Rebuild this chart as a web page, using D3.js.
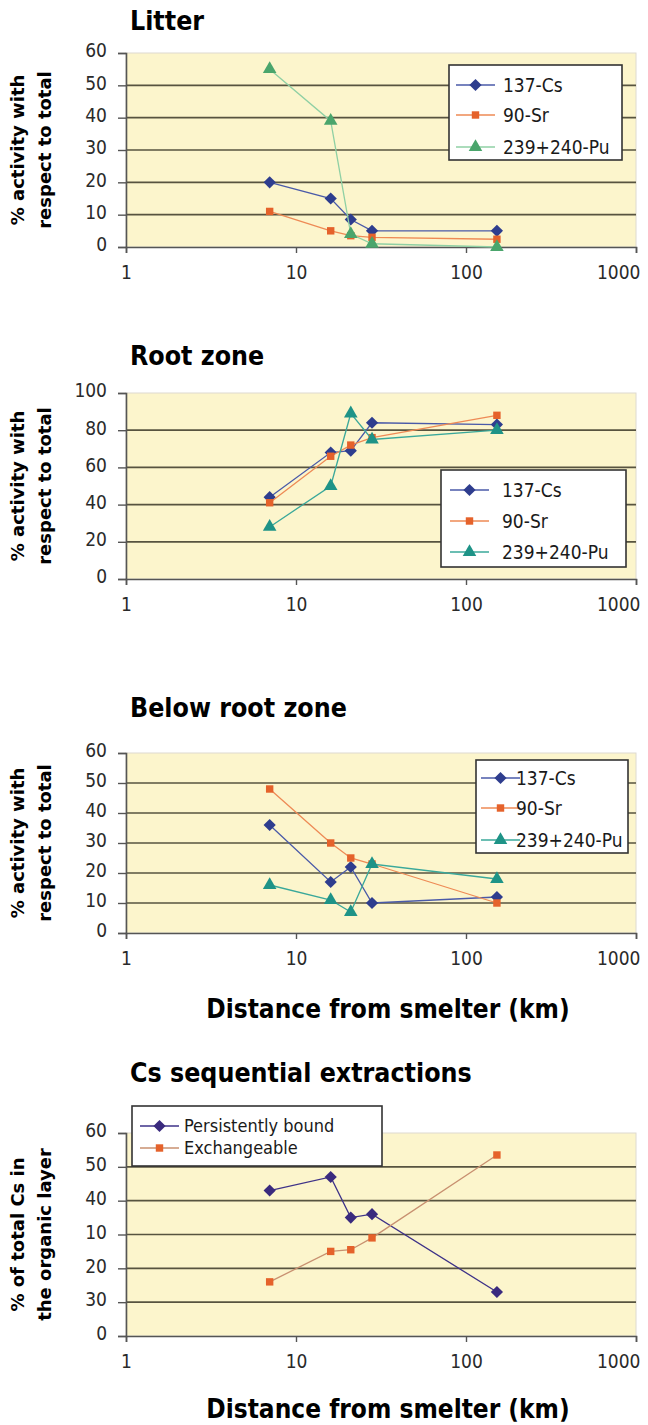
<!DOCTYPE html>
<html>
<head>
<meta charset="utf-8">
<script src="https://cdn.jsdelivr.net/npm/d3@7/dist/d3.min.js"></script>
<style>
  body { margin: 0; background: #fff; }
  svg { display: block; }
  .title { font-family: "DejaVu Sans Condensed", "DejaVu Sans", sans-serif; font-weight: bold; font-stretch: condensed; fill: #000; }
  .tick text { font-family: "DejaVu Sans Condensed", "DejaVu Sans", sans-serif; font-stretch: condensed; fill: #2a2a2a; }
  .ylab { font-family: "DejaVu Sans", sans-serif; font-weight: bold; fill: #000; }
  .leg text { font-family: "DejaVu Sans Condensed", "DejaVu Sans", sans-serif; font-stretch: condensed; fill: #1a1a1a; }
</style>
</head>
<body>
<svg width="648" height="1425"></svg>
<script>
// distances of the sampling sites (km), same for every panel
var distanceKm = [7, 16, 21, 28, 152];
var xTickValues = [1, 10, 100, 1000];
var nuclideNames = ["137-Cs", "90-Sr", "239+240-Pu"];

// Litter
var litterCs = [20, 15, 8.5, 5, 5];
var litterSr = [11, 5, 3.5, 3, 2.4];
var litterPu = [55, 39, 4, 1, 0];
var litterTicks = [0, 10, 20, 30, 40, 50, 60];

// Root zone
var rootCs = [44, 68, 69, 84, 83];
var rootSr = [41, 66, 72, 76, 88];
var rootPu = [28, 50, 89, 75, 80];
var rootTicks = [0, 20, 40, 60, 80, 100];

// Below root zone
var belowCs = [36, 17, 22, 10, 12];
var belowSr = [48, 30, 25, 23, 10];
var belowPu = [16, 11, 7, 23, 18];
var belowTicks = [0, 10, 20, 30, 40, 50, 60];

// Cs sequential extractions
var extractionNames = ["Persistently bound", "Exchangeable"];
var persistentBound = [43, 47, 35, 36, 13];
var exchangeable = [16, 25, 25.5, 29, 53.5];
var extractionTicks = [0, 10, 20, 30, 40, 50, 60];
var extractionTickLabels = ["0", "30", "20", "10", "40", "50", "60"]; // as printed in the figure

var svg = d3.select("svg");
var x = d3.scaleLog().domain([1, 1000]).range([126, 636]);

var blue = "#2e3d8e", orange = "#e5622b", green = "#4aa56c", teal = "#1e9387", purple = "#3a2a7e";
var diamond = d3.symbolDiamond2 || d3.symbolDiamond;

var panels = [
    {title: "Litter", titleY: 30, top: 53, bottom: 247, ticks: litterTicks,
     ylab: ["% activity with", "respect to total"],
     series: [
        {name: nuclideNames[0], values: litterCs, color: blue, line: "#4a5aa8", shape: diamond},
        {name: nuclideNames[1], values: litterSr, color: orange, line: "#ee8a55", shape: d3.symbolSquare},
        {name: nuclideNames[2], values: litterPu, color: green, line: "#8fd0a4", shape: d3.symbolTriangle}],
     legend: {x: 449, y: 65, w: 173, h: 95, rows: [85, 115, 147], lx: 456, tx: 503, fs: 19}},
    {title: "Root zone", titleY: 365, top: 393, bottom: 579, ticks: rootTicks,
     ylab: ["% activity with", "respect to total"],
     series: [
        {name: nuclideNames[0], values: rootCs, color: blue, line: "#4a5aa8", shape: diamond},
        {name: nuclideNames[1], values: rootSr, color: orange, line: "#ee8a55", shape: d3.symbolSquare},
        {name: nuclideNames[2], values: rootPu, color: teal, line: "#3aa89a", shape: d3.symbolTriangle}],
     legend: {x: 441, y: 470, w: 185, h: 97, rows: [490, 521, 552], lx: 450, tx: 502, fs: 19}},
    {title: "Below root zone", titleY: 717, top: 753, bottom: 933, ticks: belowTicks,
     ylab: ["% activity with", "respect to total"],
     series: [
        {name: nuclideNames[0], values: belowCs, color: blue, line: "#4a5aa8", shape: diamond},
        {name: nuclideNames[1], values: belowSr, color: orange, line: "#ee8a55", shape: d3.symbolSquare},
        {name: nuclideNames[2], values: belowPu, color: teal, line: "#3aa89a", shape: d3.symbolTriangle}],
     legend: {x: 476, y: 760, w: 152, h: 93, rows: [778, 808, 840], lx: 481, tx: 516, fs: 19},
     xtitle: 1018},
    {title: "Cs sequential extractions", titleY: 1082, top: 1133, bottom: 1336, ticks: extractionTicks,
     tickLabels: extractionTickLabels,
     ylab: ["% of total Cs in", "the organic layer"],
     series: [
        {name: extractionNames[0], values: persistentBound, color: purple, line: "#3e3288", shape: diamond},
        {name: extractionNames[1], values: exchangeable, color: orange, line: "#c89070", shape: d3.symbolSquare}],
     legend: {x: 132, y: 1106, w: 250, h: 60, rows: [1126, 1148], lx: 140, tx: 184, fs: 18},
     xtitle: 1418}
];

panels.forEach(drawPanel);

function markerSize(shape) {
    if (shape === d3.symbolSquare) return 55;
    if (shape === d3.symbolTriangle) return 80;
    return 95;
}

function drawPanel(p) {
    var yMax = d3.max(p.ticks);
    var y = d3.scaleLinear().domain([0, yMax]).range([p.bottom, p.top]);
    var g = svg.append("g");

    g.append("text").attr("class", "title")
        .attr("x", 130).attr("y", p.titleY)
        .attr("font-size", 26.5).text(p.title);

    // plot area
    g.append("rect")
        .attr("x", x(1)).attr("y", p.top)
        .attr("width", x(1000) - x(1)).attr("height", p.bottom - p.top)
        .attr("fill", "#fcf5cc").attr("stroke", "#dedad0").attr("stroke-width", 1);

    // grid lines
    g.append("g").selectAll("line")
        .data(p.ticks.filter(function (t) { return t > 0 && t < yMax; }))
        .enter().append("line")
        .attr("x1", x(1)).attr("x2", x(1000))
        .attr("y1", function (d) { return y(d); }).attr("y2", function (d) { return y(d); })
        .attr("stroke", "#57533f").attr("stroke-width", 1.7);

    var yAxis = d3.axisLeft(y).tickValues(p.ticks).tickSize(8).tickPadding(11)
        .tickFormat(function (d, i) { return p.tickLabels ? p.tickLabels[i] : d; });
    var ya = g.append("g").attr("transform", "translate(" + x(1) + ",0)").call(yAxis);
    ya.select(".domain").attr("stroke", "#555").attr("stroke-width", 1.6);
    ya.selectAll(".tick line").attr("stroke", "#555").attr("stroke-width", 1.4);
    ya.selectAll(".tick text").attr("font-size", 19).attr("dy", "0.2em");

    var xAxis = d3.axisBottom(x).tickValues(xTickValues).tickSize(6).tickPadding(13)
        .tickFormat(d3.format("d"));
    var xa = g.append("g").attr("transform", "translate(0," + p.bottom + ")").call(xAxis);
    xa.select(".domain").attr("stroke", "#555").attr("stroke-width", 1.6);
    xa.selectAll(".tick line").attr("stroke", "#555").attr("stroke-width", 1.4);
    xa.selectAll(".tick text").attr("font-size", 19);
    // the last label is pulled in so it stays on the page
    xa.selectAll(".tick text").filter(function (d) { return d === 1000; })
        .attr("text-anchor", "end").attr("x", 4);

    // y axis title, two lines
    var mid = (p.top + p.bottom) / 2;
    p.ylab.forEach(function (s, i) {
        g.append("text").attr("class", "ylab")
            .attr("transform", "translate(" + (24 + i * 27) + "," + mid + ") rotate(-90)")
            .attr("text-anchor", "middle").attr("font-size", 18).text(s);
    });

    if (p.xtitle) {
        g.append("text").attr("class", "title")
            .attr("x", 388).attr("y", p.xtitle).attr("text-anchor", "middle")
            .attr("font-size", 26).text("Distance from smelter (km)");
    }

    var line = d3.line()
        .x(function (d, i) { return x(distanceKm[i]); })
        .y(function (d) { return y(d); });

    p.series.forEach(function (s) {
        g.append("path").datum(s.values)
            .attr("d", line).attr("fill", "none")
            .attr("stroke", s.line).attr("stroke-width", 1.3);
        g.append("g").selectAll("path")
            .data(s.values).enter().append("path")
            .attr("transform", function (d, i) { return "translate(" + x(distanceKm[i]) + "," + y(d) + ")"; })
            .attr("d", d3.symbol().type(s.shape).size(markerSize(s.shape)))
            .attr("fill", s.color);
    });

    // legend
    var L = p.legend;
    var leg = g.append("g").attr("class", "leg");
    leg.append("rect").attr("x", L.x).attr("y", L.y).attr("width", L.w).attr("height", L.h)
        .attr("fill", "#fff").attr("stroke", "#333").attr("stroke-width", 1.6);
    p.series.forEach(function (s, i) {
        var ry = L.rows[i];
        leg.append("line").attr("x1", L.lx).attr("x2", L.lx + 39)
            .attr("y1", ry).attr("y2", ry).attr("stroke", s.line).attr("stroke-width", 1.3);
        leg.append("path").attr("transform", "translate(" + (L.lx + 19.5) + "," + ry + ")")
            .attr("d", d3.symbol().type(s.shape).size(markerSize(s.shape)))
            .attr("fill", s.color);
        leg.append("text").attr("x", L.tx).attr("y", ry).attr("dy", "0.35em")
            .attr("font-size", L.fs).text(s.name);
    });
}
</script>
</body>
</html>
